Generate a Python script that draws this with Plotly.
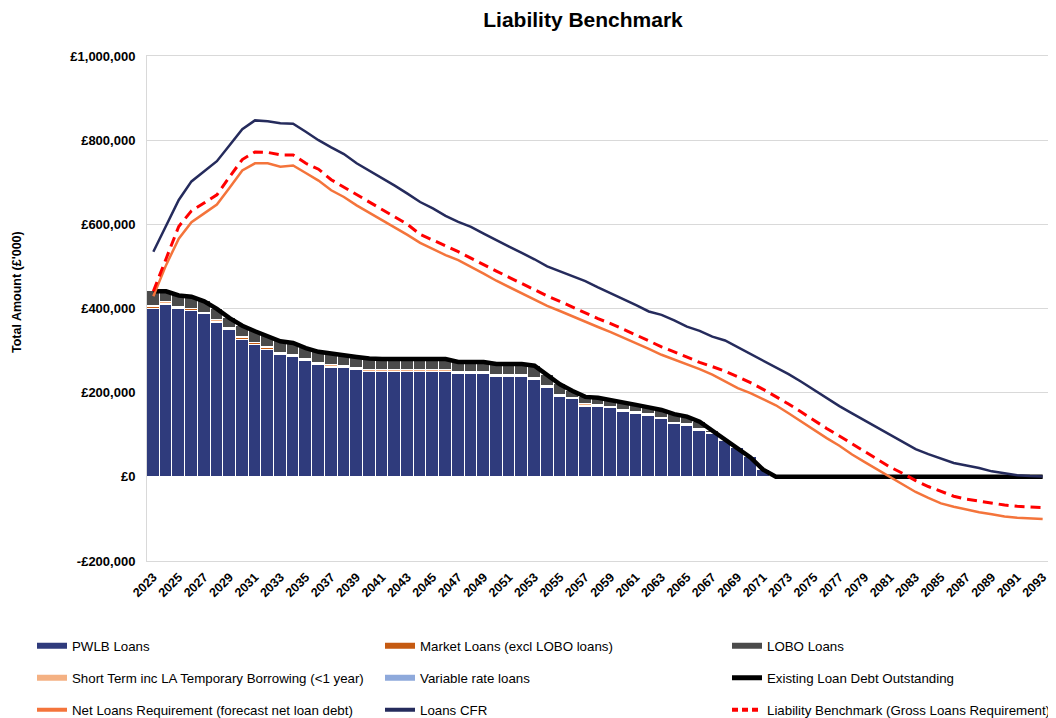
import plotly.graph_objects as go

years = [str(y) for y in range(2023, 2094)]
tick_years = years[::2]
y_tick_vals = [-200000, 0, 200000, 400000, 600000, 800000, 1000000]
y_tick_text = ["-£200,000", "£0", "£200,000", "£400,000", "£600,000", "£800,000", "£1,000,000"]

pwlb = [400000, 409000, 398000, 395000, 386000, 366000, 348000, 326000, 314000, 302000,
        289000, 285000, 276000, 266000, 259000, 259000, 254000, 249000, 249000, 249000,
        249000, 249000, 249000, 249000, 244000, 244000, 244000, 237000, 237000, 237000,
        231000, 211000, 190000, 184000, 167000, 167000, 163000, 155000, 149000, 145000,
        137000, 125000, 121000, 109000, 101000, 85000, 68000, 46000, 17000,
        0, 0, 0, 0, 0, 0, 0, 0, 0, 0, 0, 0, 0, 0, 0, 0, 0, 0, 0, 0, 0, 0]
market = [3000, 2000, 3000, 3000, 1000, 2000, 3000, 3000, 3000, 3000,
          3000, 3000, 2000, 3000, 3000, 2000, 2000, 1000, 1000, 1000,
          1000, 1000, 1000, 1000, 2000, 2000, 2000, 2000, 2000, 2000,
          2000, 2000, 2000, 2000, 2000, 2000, 1000, 2000, 2000, 2000,
          2000, 2000, 2000, 2000, 1000, 0, 0, 0, 0,
          0, 0, 0, 0, 0, 0, 0, 0, 0, 0, 0, 0, 0, 0, 0, 0, 0, 0, 0, 0, 0, 0]
short_term = [3000, 4000, 2000, 2000, 3000, 4000, 2000, 3000, 2000, 3000,
              3000, 2000, 3000, 2000, 3000, 2000, 3000, 4000, 4000, 4000,
              4000, 4000, 4000, 4000, 2000, 2000, 2000, 2000, 2000, 2000,
              3000, 2000, 2000, 2000, 3000, 2000, 3000, 2000, 2000, 2000,
              2000, 2000, 2000, 2000, 2000, 2000, 0, 0, 0,
              0, 0, 0, 0, 0, 0, 0, 0, 0, 0, 0, 0, 0, 0, 0, 0, 0, 0, 0, 0, 0, 0]
variable = [0] * 71
lobo = [35000, 26000, 28000, 28000, 27000, 27000, 24000, 27000, 27000, 26000,
        27000, 28000, 25000, 26000, 27000, 26000, 26000, 27000, 26000, 26000,
        26000, 26000, 26000, 26000, 25000, 25000, 25000, 27000, 27000, 27000,
        28000, 27000, 26000, 16000, 18000, 17000, 16000, 18000, 18000, 16000,
        18000, 20000, 18000, 18000, 5000, 1000, 0, 0, 0,
        0, 0, 0, 0, 0, 0, 0, 0, 0, 0, 0, 0, 0, 0, 0, 0, 0, 0, 0, 0, 0, 0]
existing = [441000, 441000, 431000, 428000, 417000, 399000, 377000, 359000, 346000, 334000,
            322000, 318000, 306000, 297000, 292000, 289000, 285000, 281000, 280000, 280000,
            280000, 280000, 280000, 280000, 273000, 273000, 273000, 268000, 268000, 268000,
            264000, 242000, 220000, 204000, 190000, 188000, 183000, 177000, 171000, 165000,
            159000, 149000, 143000, 131000, 109000, 88000, 68000, 46000, 17000,
            0, 0, 0, 0, 0, 0, 0, 0, 0, 0, 0, 0, 0, 0, 0, 0, 0, 0, 0, 0, 0, 0]
net_loans = [429000, 503000, 566000, 605000, 626000, 647000, 687000, 728000, 745000, 745000,
             737000, 740000, 722000, 704000, 681000, 665000, 645000, 628000, 610000, 593000,
             575000, 556000, 542000, 527000, 515000, 500000, 483000, 466000, 451000, 436000,
             420000, 406000, 394000, 381000, 369000, 356000, 344000, 331000, 318000, 304000,
             290000, 279000, 268000, 256000, 243000, 226000, 211000, 199000, 184000, 170000,
             151000, 131000, 110000, 92000, 74000, 53000, 35000, 17000, 0, -18000,
             -36000, -50000, -63000, -71000, -78000, -84000, -89000, -94000, -97000, -99000,
             -100000]
loans_cfr = [535000, 595000, 658000, 702000, 727000, 750000, 788000, 826000, 847000, 845000,
             840000, 839000, 820000, 800000, 783000, 767000, 745000, 728000, 710000, 692000,
             673000, 653000, 638000, 620000, 606000, 594000, 578000, 562000, 547000, 532000,
             517000, 500000, 488000, 477000, 465000, 450000, 436000, 423000, 408000, 393000,
             385000, 372000, 357000, 347000, 333000, 324000, 308000, 292000, 276000, 261000,
             244000, 226000, 206000, 188000, 168000, 151000, 134000, 117000, 100000, 85000,
             66000, 54000, 44000, 33000, 27000, 21000, 13000, 8000, 4000, 2000,
             1000]
liability_bm = [441000, 517000, 595000, 632000, 652000, 670000, 713000, 754000, 772000, 771000,
                765000, 765000, 745000, 731000, 706000, 688000, 671000, 653000, 636000, 618000,
                600000, 576000, 563000, 549000, 535000, 519000, 504000, 489000, 474000, 459000,
                444000, 430000, 417000, 403000, 389000, 376000, 364000, 351000, 337000, 323000,
                309000, 297000, 284000, 272000, 262000, 251000, 238000, 224000, 208000, 191000,
                173000, 154000, 134000, 115000, 97000, 78000, 60000, 41000, 23000, 8000,
                -9000, -23000, -35000, -46000, -53000, -58000, -63000, -67000, -70000, -72000,
                -73000]

C_PWLB = "#2F3B7C"
C_MARKET = "#C55A11"
C_LOBO = "#4B4B4B"
C_SHORT = "#F4B183"
C_VAR = "#8EA9DB"
C_EXIST = "#000000"
C_NET = "#F4743B"
C_CFR = "#252B5C"
C_LB = "#FF0000"

FONT = "Arial, Liberation Sans, sans-serif"
OFF = 8            # page body margin: the figure starts 8px in from the window corner
W, H = 1048, 710   # figure size (fills the window after the body margin)


def fx(page_x):
    return page_x - OFF


def fy(page_y):
    return page_y - OFF


fig = go.Figure()

bar_line = dict(color="white", width=1)
# stacking order (bottom to top)
for name, vals, col in [
    ("PWLB Loans", pwlb, C_PWLB),
    ("Market Loans (excl LOBO loans)", market, C_MARKET),
    ("Short Term inc LA Temporary Borrowing (<1 year)", short_term, C_SHORT),
    ("Variable rate loans", variable, C_VAR),
    ("LOBO Loans", lobo, C_LOBO),
]:
    fig.add_trace(go.Bar(x=years, y=vals, name=name, marker=dict(color=col, line=bar_line),
                         showlegend=False))

fig.add_trace(go.Scatter(x=years, y=existing, mode="lines", showlegend=False,
                         line=dict(color=C_EXIST, width=4.5)))
fig.add_trace(go.Scatter(x=years, y=net_loans, mode="lines", showlegend=False,
                         line=dict(color=C_NET, width=2.5)))
fig.add_trace(go.Scatter(x=years, y=loans_cfr, mode="lines", showlegend=False,
                         line=dict(color=C_CFR, width=2.5)))
fig.add_trace(go.Scatter(x=years, y=liability_bm, mode="lines", showlegend=False,
                         line=dict(color=C_LB, width=3, dash="10px,6px")))

# legend entries (3 rows x 3 columns), one legend per entry for exact placement
legend_items = [
    ("PWLB Loans", C_PWLB, 6, "solid"),
    ("Market Loans (excl LOBO loans)", C_MARKET, 6, "solid"),
    ("LOBO Loans", C_LOBO, 6, "solid"),
    ("Short Term inc LA Temporary Borrowing (<1 year)", C_SHORT, 6, "solid"),
    ("Variable rate loans", C_VAR, 6, "solid"),
    ("Existing Loan Debt Outstanding", C_EXIST, 5, "solid"),
    ("Net Loans Requirement (forecast net loan debt)", C_NET, 4, "solid"),
    ("Loans CFR", C_CFR, 4, "solid"),
    ("Liability Benchmark (Gross Loans Requirement)", C_LB, 4, "6px,4px"),
]
col_x = [24, 372, 719]        # figure px (text starts ~48px further right on the page)
row_y = [646, 678, 710]       # page px of each legend row centre
layout_legends = {}
for k, (name, col, w, dash) in enumerate(legend_items):
    lid = "legend" if k == 0 else f"legend{k + 1}"
    fig.add_trace(go.Scatter(x=[None], y=[None], mode="lines", name=name, legend=lid,
                             line=dict(color=col, width=w, dash=dash), showlegend=True))
    layout_legends[lid] = dict(
        orientation="h", xref="container", yref="container",
        x=col_x[k % 3] / W, y=1 - fy(row_y[k // 3]) / H, xanchor="left", yanchor="middle",
        font=dict(family=FONT, size=13.3, color="#000000"),
        bgcolor="rgba(0,0,0,0)", itemwidth=30)

# plot area in page px
plot_l, plot_r, plot_t, plot_b = 147, 1049, 56, 561
pw, ph = plot_r - plot_l, plot_b - plot_t


def px_x(x):
    return (x - plot_l) / pw


def px_y(y):
    return (plot_b - y) / ph


fig.update_layout(
    width=W, height=H,
    margin=dict(l=fx(plot_l), r=W - fx(plot_r), t=fy(plot_t), b=H - fy(plot_b),
                autoexpand=False),
    paper_bgcolor="white", plot_bgcolor="white",
    barmode="stack", bargap=0,
    font=dict(family=FONT, color="#000000"),
    title=dict(text="Liability Benchmark", x=fx(583) / W, xref="container", xanchor="center",
               y=1 - fy(20) / H, yref="container", yanchor="middle",
               font=dict(family=FONT, size=21, color="#000000", weight="bold")),
    showlegend=True,
    **layout_legends,
)

fig.update_xaxes(type="category", range=[-0.5, 70.5], tickmode="array", tickvals=tick_years,
                 ticktext=tick_years, tickangle=-45, showgrid=False, ticks="",
                 tickfont=dict(family=FONT, size=12.5, color="#000000", weight="bold"),
                 ticklabelstandoff=3,
                 showline=True, linecolor="#D9D9D9", linewidth=1, mirror=True,
                 automargin=False)
fig.update_yaxes(range=[-200000, 1000000], tickmode="array", tickvals=y_tick_vals,
                 ticktext=y_tick_text, showgrid=True, gridcolor="#D9D9D9", gridwidth=1,
                 zeroline=False, ticks="",
                 tickfont=dict(family=FONT, size=13, color="#000000", weight="bold"),
                 ticklabelstandoff=8,
                 showline=True, linecolor="#D9D9D9", linewidth=1, mirror=True,
                 automargin=False)

fig.add_annotation(text="Total Amount (£'000)", textangle=-90, xref="paper", yref="paper",
                   x=px_x(17), y=px_y(292), showarrow=False, xanchor="center", yanchor="middle",
                   font=dict(family=FONT, size=12.5, color="#000000", weight="bold"))

fig.write_html("out.html")
